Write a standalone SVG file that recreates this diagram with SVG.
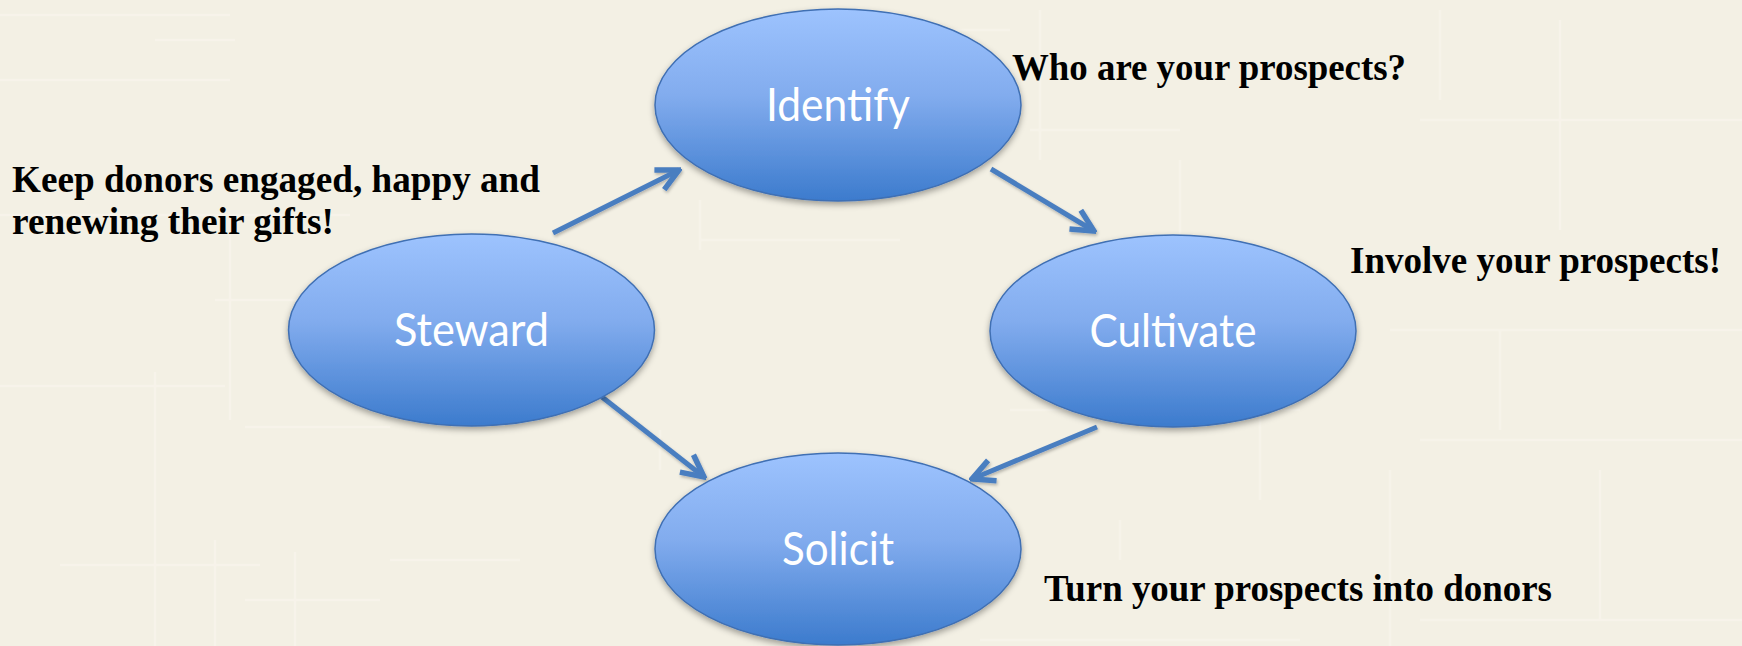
<svg xmlns="http://www.w3.org/2000/svg" width="1742" height="646" viewBox="0 0 1742 646">
  <defs>
    <style>
      .node-shape { fill: url(#nodeFill); stroke: #3F6FB3; stroke-width: 1.5; filter: url(#softShadow); }
      .node-label { font-family: Lato, "Open Sans", "DejaVu Sans", sans-serif; font-size: 46px; fill: #FFFFFF; text-anchor: middle; }
      .note { font-family: "Liberation Serif", "Times New Roman", serif; font-weight: bold; font-size: 37px; fill: #000000; }
      .link { fill: none; stroke: #4A7EC0; stroke-width: 5; marker-end: url(#openArrow); filter: url(#lineShadow); }
      .grain { fill: none; stroke: #F9F6EE; stroke-width: 2.5; opacity: 0.55; }
    </style>
    <linearGradient id="nodeFill" x1="0" y1="0" x2="0" y2="1">
      <stop offset="0" stop-color="#9DC3FE"/>
      <stop offset="0.45" stop-color="#82ACEE"/>
      <stop offset="1" stop-color="#3C7BCD"/>
    </linearGradient>
    <filter id="softShadow" x="-10%" y="-10%" width="120%" height="130%">
      <feDropShadow dx="0" dy="3" stdDeviation="3" flood-color="#000000" flood-opacity="0.35"/>
    </filter>
    <filter id="lineShadow" x="-20%" y="-20%" width="140%" height="140%">
      <feDropShadow dx="1" dy="2" stdDeviation="1.5" flood-color="#000000" flood-opacity="0.25"/>
    </filter>
    <marker id="openArrow" viewBox="0 0 10 10" refX="9" refY="5" markerWidth="5.5" markerHeight="5.5" orient="auto-start-reverse">
      <path d="M1,1 L9,5 L1,9" fill="none" stroke="#4A7EC0" stroke-width="2" stroke-linejoin="miter" stroke-linecap="butt"/>
    </marker>
  </defs>

  <!-- paper background with faint woven strokes -->
  <rect x="0" y="0" width="1742" height="646" fill="#F3F0E4"/>
  <g class="grain">
    <path d="M0,15 H230 M155,40 H235 M0,80 H230 M0,215 H350 M230,230 V300 M215,300 H390 M155,372 V646 M0,386 H225 M230,300 V420 M245,427 H390 M60,565 H260 M215,540 V646 M295,552 V646 M245,600 H380 M390,560 H520"/>
    <path d="M700,240 H900 M900,30 H1010 M1040,10 V160 M1030,130 H1180 M1180,160 V240 M1420,120 H1742 M1440,10 V100 M1560,20 V230 M1390,330 H1742 M1500,330 V430 M1420,440 H1742 M1390,470 V646 M1600,470 V620 M1420,620 H1742"/>
    <path d="M1010,410 H1300 M1260,380 V500 M1120,520 V560 M980,640 H1300 M660,430 V470 M700,200 V250"/>
  </g>

  <!-- connectors -->
  <g id="connectors">
    <path class="link" d="M553,233 L679,170"/>
    <path class="link" d="M991,169 L1094,231"/>
    <path class="link" d="M1097,427 L972,479"/>
    <path class="link" d="M602,397 L704,477"/>
  </g>

  <!-- stages of the donor cycle -->
  <g id="node-identify">
    <ellipse class="node-shape" cx="838" cy="105" rx="183" ry="96"/>
    <text class="node-label" x="838" y="121" textLength="144" lengthAdjust="spacingAndGlyphs">Identify</text>
  </g>
  <g id="node-steward">
    <ellipse class="node-shape" cx="471.5" cy="330" rx="183" ry="96"/>
    <text class="node-label" x="471.5" y="346" textLength="155" lengthAdjust="spacingAndGlyphs">Steward</text>
  </g>
  <g id="node-cultivate">
    <ellipse class="node-shape" cx="1173" cy="331" rx="183" ry="96"/>
    <text class="node-label" x="1173" y="347" textLength="167" lengthAdjust="spacingAndGlyphs">Cultivate</text>
  </g>
  <g id="node-solicit">
    <ellipse class="node-shape" cx="838" cy="549" rx="183" ry="96"/>
    <text class="node-label" x="838" y="565" textLength="112" lengthAdjust="spacingAndGlyphs">Solicit</text>
  </g>

  <!-- stage notes -->
  <g id="notes">
    <text class="note" x="1012" y="80" textLength="394" lengthAdjust="spacingAndGlyphs">Who are your prospects?</text>
    <text class="note" x="12" y="192" textLength="528" lengthAdjust="spacingAndGlyphs">Keep donors engaged, happy and</text>
    <text class="note" x="12" y="234" textLength="322" lengthAdjust="spacingAndGlyphs">renewing their gifts!</text>
    <text class="note" x="1350" y="273" textLength="371" lengthAdjust="spacingAndGlyphs">Involve your prospects!</text>
    <text class="note" x="1044" y="601" textLength="508" lengthAdjust="spacingAndGlyphs">Turn your prospects into donors</text>
  </g>
</svg>
